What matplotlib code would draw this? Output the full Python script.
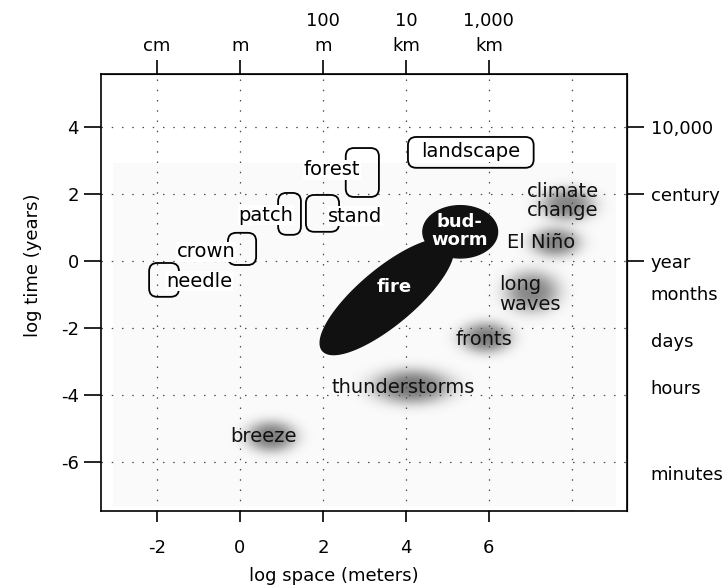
import numpy as np
import matplotlib
matplotlib.use('Agg')
import matplotlib.pyplot as plt
from matplotlib.patches import FancyBboxPatch, Polygon, Rectangle

plt.rcParams['font.family'] = ['DejaVu Sans']
plt.rcParams['axes.unicode_minus'] = False

# ---------------- data ----------------
x_ticks = [-2, 0, 2, 4, 6]
y_ticks = [4, 2, 0, -2, -4, -6]
top_labels = ['cm', 'm', '100\nm', '10\nkm', '1,000\nkm']
right_tick_pos = [4, 2, 0]
right_tick_labels = ['10,000', 'century', 'year']
right_extra_pos = [-0.96, -2.36, -3.76, -6.33]
right_extra_labels = ['months', 'days', 'hours', 'minutes']
grid_x = [-2, 0, 2, 4, 6, 8]
grid_y = [4, 2, 0, -2, -4, -6]

# boxed (vegetation) levels
box_names = ['landscape', 'forest', 'patch', 'stand', 'crown', 'needle']
box_x0 = [4.05, 2.55, 0.92, 1.59, -0.29, -2.19]
box_x1 = [7.08, 3.35, 1.47, 2.39, 0.39, -1.47]
box_y0 = [2.78, 1.91, 0.78, 0.87, -0.12, -1.07]
box_y1 = [3.70, 3.37, 2.03, 1.97, 0.84, -0.06]
box_text_x = [5.57, 2.22, 0.63, 2.77, -0.82, -0.99]
box_text_y = [3.27, 2.72, 1.37, 1.34, 0.27, -0.60]

# black (disturbance) ellipses: centre, half-axis vectors
ell_names = ['bud-\nworm', 'fire']
ell_cx = [5.31, 3.54]
ell_cy = [0.87, -1.07]
ell_ax = [0.90, 1.55]
ell_ay = [0.00, 1.60]
ell_bx = [0.00, 0.42]
ell_by = [0.78, -0.64]
ell_text_x = [5.30, 3.73]
ell_text_y = [0.90, -0.78]

# grey (atmospheric) blobs
blob_names = ['climate\nchange', 'El Niño', 'long\nwaves', 'fronts',
              'thunderstorms', 'breeze']
blob_x = [7.90, 7.61, 7.05, 5.93, 4.15, 0.75]
blob_y = [1.67, 0.54, -0.93, -2.30, -3.76, -5.25]
blob_sx = [0.50, 0.46, 0.50, 0.47, 0.72, 0.46]
blob_sy = [0.38, 0.34, 0.47, 0.36, 0.40, 0.36]
blob_dark = [0.58, 0.58, 0.58, 0.62, 0.65, 0.62]
blob_text_x = [7.78, 7.25, 7.00, 5.89, 3.94, 0.56]
blob_text_y = [1.79, 0.54, -0.99, -2.33, -3.79, -5.25]

xlim = (-3.35, 9.33)
ylim = (-7.46, 5.58)

# ---------------- figure ----------------
fig = plt.figure(figsize=(7.25, 5.88), dpi=100)
ax = fig.add_axes([0.1393, 0.1310, 0.7255, 0.7432])
ax.set_xlim(*xlim)
ax.set_ylim(*ylim)

# faint scanned background
ax.add_patch(Rectangle((-3.06, -7.3), 12.12, 10.23, facecolor='#fafafa',
                       edgecolor='none', zorder=0))

# grey blobs as a smooth field
gx = np.linspace(xlim[0], xlim[1], 600)
gy = np.linspace(ylim[0], ylim[1], 600)
GX, GY = np.meshgrid(gx, gy)
keep = np.ones_like(GX)
for cx, cy, sx, sy, d in zip(blob_x, blob_y, blob_sx, blob_sy, blob_dark):
    r2 = ((GX - cx) / sx) ** 2 + ((GY - cy) / sy) ** 2
    keep *= 1 - d * np.exp(-0.5 * r2 ** 1.4)
alpha = 1 - keep
rgba = np.zeros(GX.shape + (4,))
rgba[..., 0:3] = 0.2
rgba[..., 3] = alpha
ax.imshow(rgba, origin='lower', extent=(xlim[0], xlim[1], ylim[0], ylim[1]),
          aspect='auto', interpolation='bilinear', zorder=0.5)
ax.set_xlim(*xlim)
ax.set_ylim(*ylim)

# dotted grid
for gxv in grid_x:
    ax.axvline(gxv, color='0.3', lw=0.9, ls=(0, (1.2, 7)), zorder=1)
for gyv in grid_y:
    ax.axhline(gyv, color='0.3', lw=0.9, ls=(0, (1.2, 7)), zorder=1)

# black ellipses
t = np.linspace(0, 2 * np.pi, 200)
for cx, cy, axx, ayy, bxx, byy in zip(ell_cx, ell_cy, ell_ax, ell_ay, ell_bx, ell_by):
    px = cx + axx * np.cos(t) + bxx * np.sin(t)
    py = cy + ayy * np.cos(t) + byy * np.sin(t)
    ax.add_patch(Polygon(np.column_stack([px, py]), closed=True,
                         facecolor='#111111', edgecolor='#111111', lw=1, zorder=2))
for name, tx, ty in zip(ell_names, ell_text_x, ell_text_y):
    ax.text(tx, ty, name, color='white', fontsize=13, fontweight='bold',
            ha='center', va='center', linespacing=1.0, zorder=5)

# rounded boxes
fig.canvas.draw()
p0 = ax.transData.transform((0, 0))
p1 = ax.transData.transform((1, 1))
aspect = (p1[0] - p0[0]) / (p1[1] - p0[1])
for x0, x1, y0, y1 in zip(box_x0, box_x1, box_y0, box_y1):
    ax.add_patch(FancyBboxPatch((x0, y0), x1 - x0, y1 - y0,
                                boxstyle='round,pad=0,rounding_size=0.2',
                                mutation_aspect=aspect, facecolor='none',
                                edgecolor='black', lw=1.3, zorder=3))
for name, tx, ty in zip(box_names, box_text_x, box_text_y):
    ax.text(tx, ty, name, fontsize=14, ha='center', va='center', zorder=4,
            bbox=dict(facecolor='white', edgecolor='none', pad=0.5))

# blob labels
for name, tx, ty in zip(blob_names, blob_text_x, blob_text_y):
    ax.text(tx, ty, name, fontsize=14, ha='center', va='center',
            multialignment='left', linespacing=1.05, color='#111111', zorder=4)

# ---------------- axes styling ----------------
for sp in ax.spines.values():
    sp.set_linewidth(1.2)
ax.set_xticks(x_ticks)
ax.set_yticks(y_ticks)
ax.tick_params(axis='x', direction='out', length=8, width=1.2, pad=12, labelsize=13)
ax.tick_params(axis='y', direction='out', length=12, width=1.2, pad=4, labelsize=13)
ax.set_xlabel('log space (meters)', fontsize=13)
ax.set_ylabel('log time (years)', fontsize=13)
ax.xaxis.set_label_coords(0.442, -0.128)
ax.yaxis.set_label_coords(-0.112, 0.563)

top = ax.secondary_xaxis('top')
top.set_xticks(x_ticks, top_labels)
top.tick_params(direction='out', length=10, width=1.2, pad=4, labelsize=13)
for lab in top.get_xticklabels():
    lab.set_linespacing(1.45)

right = ax.secondary_yaxis('right')
right.set_yticks(right_tick_pos, right_tick_labels)
right.tick_params(direction='out', length=12, width=1.2, pad=5, labelsize=13)
right2 = ax.secondary_yaxis('right')
right2.set_yticks(right_extra_pos, right_extra_labels)
right2.tick_params(length=0, pad=17, labelsize=13)

fig.savefig('out.png', dpi=100)
